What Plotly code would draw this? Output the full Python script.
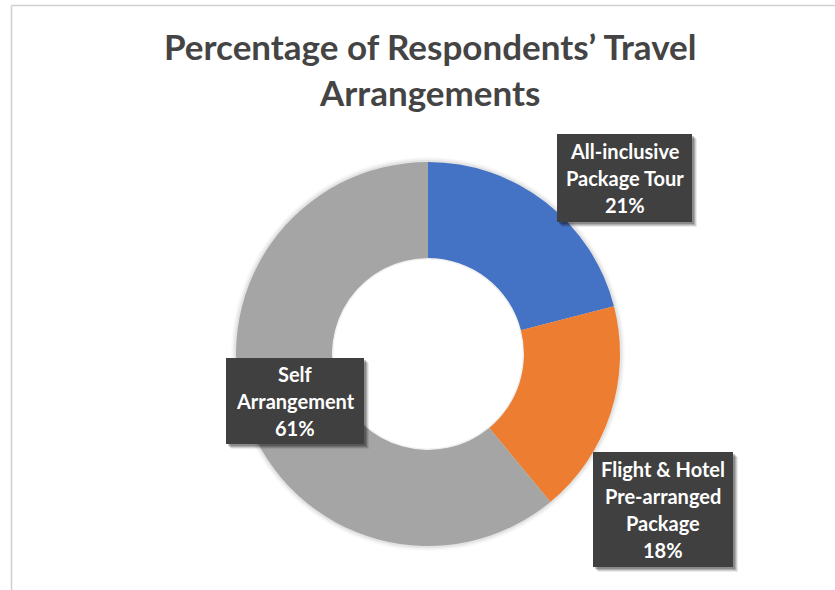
import plotly.graph_objects as go

W, H = 835, 590

# Survey data
categories = ["All-inclusive Package Tour", "Flight & Hotel Pre-arranged Package", "Self Arrangement"]
label_lines = [["All-inclusive", "Package Tour"],
               ["Flight & Hotel", "Pre-arranged", "Package"],
               ["Self", "Arrangement"]]
shares = [21, 18, 61]
colors = ["#4472C4", "#ED7D31", "#A5A5A5"]

title_lines = ["Percentage of Respondents\u2019 Travel", "Arrangements"]


def px(x):
    return x / W


def py(y):
    return 1 - y / H


# donut geometry in pixels
cx, cy, r, r_in = 428, 354, 192, 96

fig = go.Figure(go.Pie(
    labels=categories,
    values=shares,
    sort=False,
    direction="clockwise",
    rotation=0,
    hole=r_in / r,
    marker=dict(colors=colors, line=dict(width=0)),
    textinfo="none",
    hoverinfo="label+percent",
    showlegend=False,
    domain=dict(x=[px(cx - r), px(cx + r)], y=[py(cy + r), py(cy - r)]),
))

shapes = []
annotations = []

# soft glow around the ring (drawn beneath the pie)
for grow, a in [(5, 0.025), (3.5, 0.035), (2, 0.05)]:
    shapes.append(dict(type="circle", xref="paper", yref="paper", layer="below",
                       x0=px(cx - r - grow), x1=px(cx + r + grow),
                       y0=py(cy + r + grow), y1=py(cy - r - grow),
                       fillcolor=f"rgba(0,0,0,{a})", line=dict(width=0)))
# the hole itself stays white, with a faint edge
shapes.append(dict(type="circle", xref="paper", yref="paper", layer="below",
                   x0=px(cx - r_in), x1=px(cx + r_in),
                   y0=py(cy + r_in), y1=py(cy - r_in),
                   fillcolor="white", line=dict(color="rgba(0,0,0,0.06)", width=3)))

# chart-area frame (top and left edges)
shapes.append(dict(type="line", xref="paper", yref="paper",
                   x0=px(11.5), x1=px(W + 5), y0=py(5.5), y1=py(5.5),
                   line=dict(color="#D0D0D0", width=1.5)))
shapes.append(dict(type="line", xref="paper", yref="paper",
                   x0=px(11.5), x1=px(11.5), y0=py(5.5), y1=py(H + 5),
                   line=dict(color="#D0D0D0", width=1.5)))

# title
title_font = dict(family="Lato", size=35, color="#444444")
for i, t in enumerate(title_lines):
    annotations.append(dict(text=f"<b>{t}</b>", xref="paper", yref="paper",
                            x=px(430), y=py(46 + 46 * i),
                            xanchor="center", yanchor="middle",
                            showarrow=False, font=title_font))

# data-label callout boxes: (left, top, right, bottom)
boxes = [(557, 134, 692, 222), (593, 452, 733, 567), (226, 358, 364, 444)]
line_gap = 27
label_font = dict(family="Lato", size=20, color="white")

for (x0, y0, x1, y1), lines, v in zip(boxes, label_lines, shares):
    # soft drop shadow
    for off, a in [(5, 0.08), (4, 0.12), (3, 0.16), (2, 0.2)]:
        shapes.append(dict(type="rect", xref="paper", yref="paper",
                           x0=px(x0 + off), x1=px(x1 + off),
                           y0=py(y1 + off), y1=py(y0 + off),
                           fillcolor=f"rgba(0,0,0,{a})", line=dict(width=0)))
    shapes.append(dict(type="rect", xref="paper", yref="paper",
                       x0=px(x0), x1=px(x1), y0=py(y1), y1=py(y0),
                       fillcolor="#404040", line=dict(width=0)))
    rows = lines + [f"{v}%"]
    mid = (y0 + y1) / 2
    start = mid - line_gap * (len(rows) - 1) / 2
    for k, row in enumerate(rows):
        annotations.append(dict(text=f"<b>{row}</b>", xref="paper", yref="paper",
                                x=px((x0 + x1) / 2), y=py(start + k * line_gap),
                                xanchor="center", yanchor="middle",
                                showarrow=False, font=label_font))

fig.update_layout(
    width=W, height=H,
    margin=dict(l=0, r=0, t=0, b=0),
    paper_bgcolor="white",
    plot_bgcolor="white",
    shapes=shapes,
    annotations=annotations,
)

fig.write_html("out.html")
